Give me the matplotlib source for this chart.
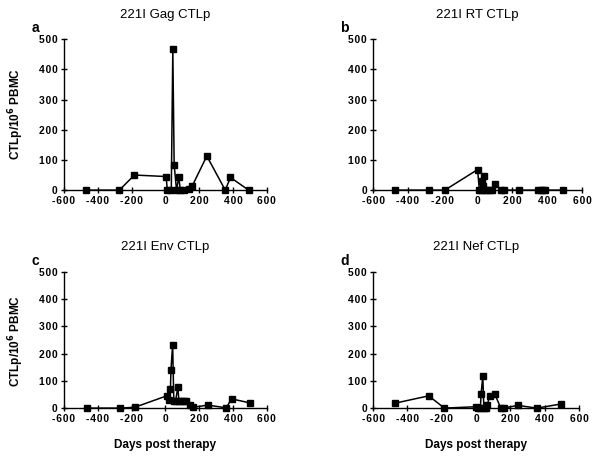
import numpy as np
import matplotlib
matplotlib.use("Agg")
import matplotlib.pyplot as plt
from matplotlib.ticker import FuncFormatter

plt.rcParams['font.family'] = ['Liberation Sans', 'DejaVu Sans']

# days post therapy / CTLp per 10^6 PBMC
gag_days = [-468, -272, -183, 4, 12, 35, 44, 52, 66, 79, 89, 111, 142, 159, 245, 354, 385, 492]
gag_ctlp = [0, 0, 50, 45, 0, 0, 467, 84, 0, 42, 0, 0, 5, 14, 113, 0, 42, 0]

rt_days = [-475, -278, -188, 0, 10, 20, 25, 31, 35, 40, 50, 70, 80, 101, 136, 153, 239, 345, 364, 377, 387, 492]
rt_ctlp = [0, 0, 0, 68, 0, 0, 30, 15, 46, 0, 0, 0, 0, 21, 0, 0, 0, 0, 0, 0, 0, 0]

env_days = [-465, -270, -181, 8, 20, 30, 33, 43, 50, 60, 74, 80, 95, 110, 120, 145, 163, 251, 360, 391, 500]
env_ctlp = [0, 0, 3, 45, 28, 70, 140, 233, 25, 25, 78, 25, 25, 25, 25, 12, 3, 11, 1, 34, 19]

nef_days = [-473, -276, -185, 0, 10, 25, 29, 39, 45, 55, 64, 80, 109, 144, 160, 243, 354, 494]
nef_ctlp = [18, 45, 0, 5, 0, 0, 52, 118, 0, 0, 12, 44, 51, 0, 0, 10, 0, 15]

panels = [
    ("a", "221I Gag CTLp", gag_days, gag_ctlp, [0.107, 0.584, 0.340, 0.330], 1.12),
    ("b", "221I RT CTLp", rt_days, rt_ctlp, [0.625, 0.584, 0.350, 0.330], 1.12),
    ("c", "221I Env CTLp", env_days, env_ctlp, [0.107, 0.107, 0.340, 0.298], 1.14),
    ("d", "221I Nef CTLp", nef_days, nef_ctlp, [0.625, 0.107, 0.345, 0.298], 1.14),
]


# spaced-out tick numbers like the scanned figure
def spaced(v, pos):
    return "\u200a".join(str(int(v)).replace("-", "-"))


fig = plt.figure(figsize=(5.97, 4.57), dpi=100)

for letter, title, days, ctlp, rect, ty in panels:
    ax = fig.add_axes(rect)
    ax.plot(days, ctlp, color="black", lw=1.1, marker="s", ms=4.6, clip_on=False, zorder=3)
    ax.set_xlim(-600, 600)
    ax.set_ylim(0, 500)
    ax.set_xticks(np.arange(-600, 601, 200))
    ax.set_yticks(np.arange(0, 501, 100))
    ax.xaxis.set_major_formatter(FuncFormatter(spaced))
    ax.yaxis.set_major_formatter(FuncFormatter(spaced))
    for s in ["top", "right"]:
        ax.spines[s].set_visible(False)
    for s in ["left", "bottom"]:
        ax.spines[s].set_linewidth(1.0)
    ax.tick_params(direction="inout", length=5, width=1.0, labelsize=7.4, pad=2)
    for lab in ax.get_xticklabels() + ax.get_yticklabels():
        lab.set_fontweight("bold")
    ax.text(0.5, ty, title, transform=ax.transAxes, ha="center", va="bottom", fontsize=9.5)
    ax.text(-0.14, 1.03, letter, transform=ax.transAxes, ha="center", va="bottom",
            fontsize=10, fontweight="bold")

fig.text(0.027, 0.75, "CTLp/10$^\\mathbf{6}$ PBMC", rotation=90, ha="center", va="center",
         fontsize=8.5, fontweight="bold")
fig.text(0.027, 0.255, "CTLp/10$^\\mathbf{6}$ PBMC", rotation=90, ha="center", va="center",
         fontsize=8.5, fontweight="bold")
fig.text(0.277, 0.027, "Days post therapy", ha="center", va="center", fontsize=8.5, fontweight="bold")
fig.text(0.797, 0.027, "Days post therapy", ha="center", va="center", fontsize=8.5, fontweight="bold")

fig.savefig("out.png", dpi=100)
